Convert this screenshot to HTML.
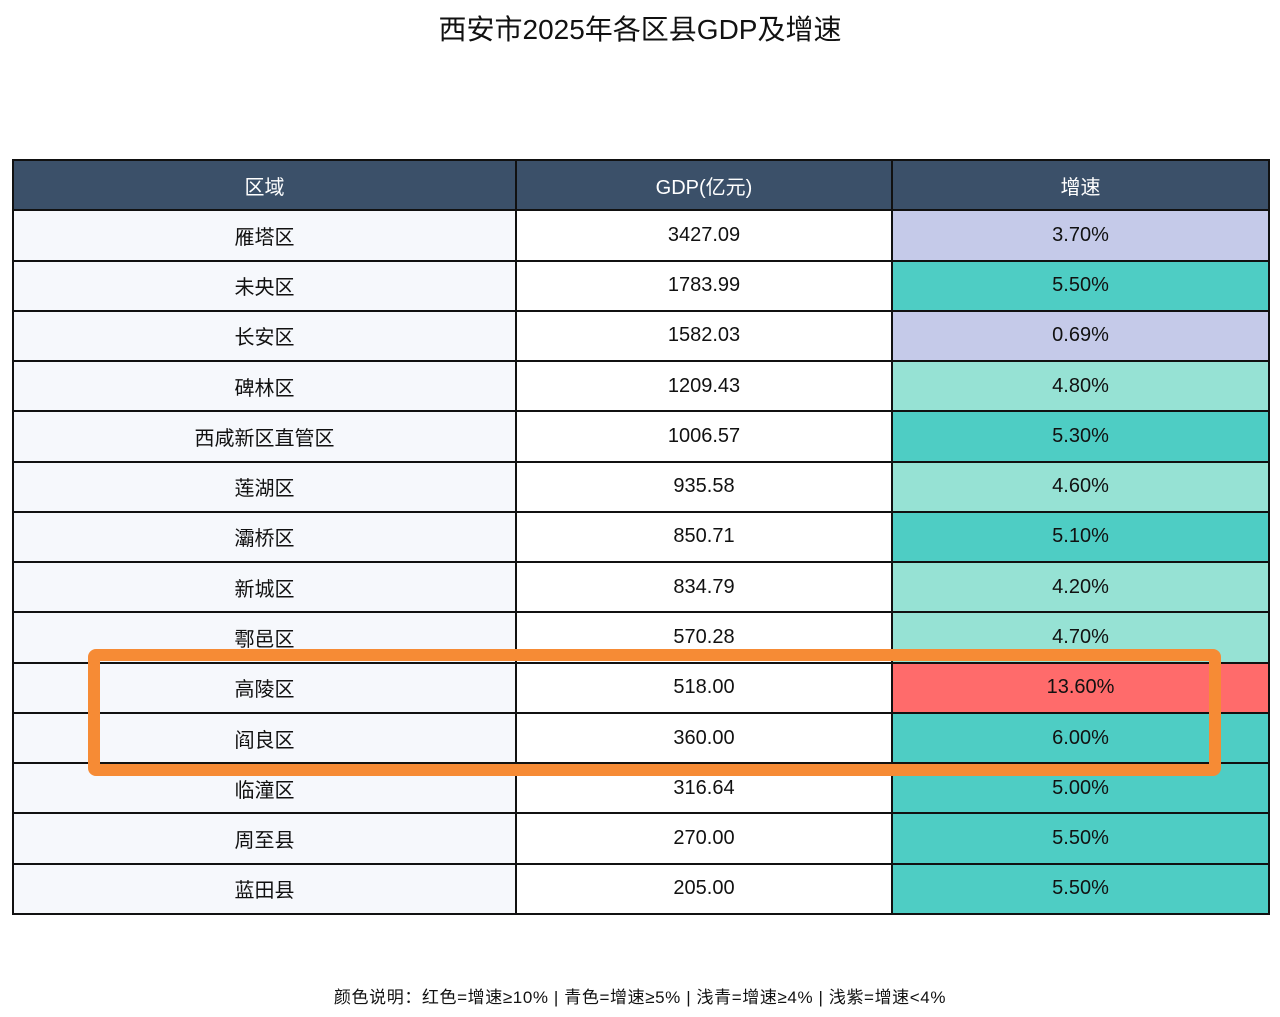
<!DOCTYPE html>
<html><head><meta charset="utf-8"><style>
body{margin:0;width:1280px;height:1017px;background:#fff;position:relative;overflow:hidden;font-family:"Liberation Sans","Noto Sans CJK SC",sans-serif;}
#title{position:absolute;top:8px;left:0;width:1280px;text-align:center;font-size:28px;color:#111;}
#tbl{position:absolute;left:12px;top:159px;width:1256px;border-collapse:collapse;table-layout:fixed;}
#tbl td{border:2px solid #111;text-align:center;font-size:20px;color:#111;height:50.27px;padding:0;box-sizing:border-box;}
#tbl tr.h td{background:#3b5069;color:#fff;}
.note{position:absolute;top:983px;width:1280px;text-align:center;font-size:17px;letter-spacing:0.6px;color:#111;}
#box{position:absolute;left:88px;top:649px;width:1109px;height:103px;border:12px solid #f68b35;border-radius:8px;}
</style></head><body>
<div id="title">西安市2025年各区县GDP及增速</div>
<table id="tbl">
<colgroup><col style="width:503px"><col style="width:376px"><col style="width:377px"></colgroup>
<tbody id="tb"><tr class="h"><td>区域</td><td>GDP(亿元)</td><td>增速</td></tr></tbody>
</table>
<div id="box"></div>
<div class="note">颜色说明：红色=增速≥10% | 青色=增速≥5% | 浅青=增速≥4% | 浅紫=增速&lt;4%</div>
<script>
const regions=["雁塔区","未央区","长安区","碑林区","西咸新区直管区","莲湖区","灞桥区","新城区","鄠邑区","高陵区","阎良区","临潼区","周至县","蓝田县"];
const gdp=[3427.09,1783.99,1582.03,1209.43,1006.57,935.58,850.71,834.79,570.28,518.00,360.00,316.64,270.00,205.00];
const growth=[3.70,5.50,0.69,4.80,5.30,4.60,5.10,4.20,4.70,13.60,6.00,5.00,5.50,5.50];
const tb=document.getElementById('tb');
function col(g){return g>=10?'#ff6b6b':g>=5?'#4ecdc4':g>=4?'#96e2d4':'#c5cae9';}
regions.forEach((r,i)=>{
const tr=document.createElement('tr');


const a=document.createElement('td');a.textContent=r;a.style.background='#f6f8fc';


const b=document.createElement('td');b.textContent=gdp[i].toFixed(2);b.style.background='#fff';


const c=document.createElement('td');c.textContent=growth[i].toFixed(2)+'%';c.style.background=col(growth[i]);


tr.append(a,b,c);tb.appendChild(tr);
});
</script>
</body></html>
